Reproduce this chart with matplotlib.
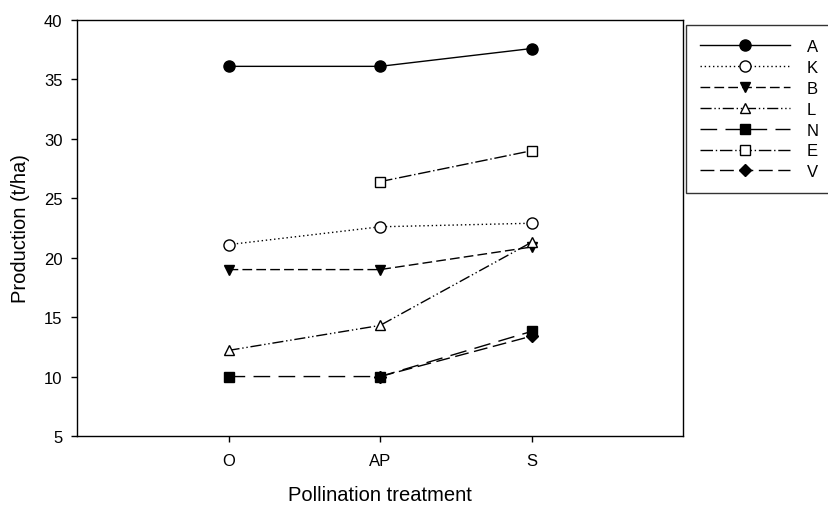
import numpy as np
import matplotlib

matplotlib.use("Agg")
import matplotlib.pyplot as plt

plt.rcParams["font.family"] = ["Liberation Sans", "DejaVu Sans"]

treatments = ["O", "AP", "S"]
series_names = ["A", "K", "B", "L", "N", "E", "V"]
A = [36.1, 36.1, 37.6]
K = [21.1, 22.6, 22.9]
B = [19.0, 19.0, 20.9]
L = [12.2, 14.3, 21.3]
N = [10.0, 10.0, 13.8]
E = [np.nan, 26.4, 29.0]
V = [np.nan, 10.0, 13.4]

styles = {
    "A": dict(ls="-", marker="o", mfc="black", ms=8),
    "K": dict(ls=(0, (1, 2)), marker="o", mfc="white", ms=8),
    "B": dict(ls=(0, (7, 3)), marker="v", mfc="black", ms=7.5),
    "L": dict(ls=(0, (8, 2, 1, 2, 1, 2)), marker="^", mfc="white", ms=7.5),
    "N": dict(ls=(0, (12, 6)), marker="s", mfc="black", ms=6.5),
    "E": dict(ls=(0, (9, 2, 1, 2)), marker="s", mfc="white", ms=6.5),
    "V": dict(ls=(0, (10, 4)), marker="D", mfc="black", ms=6),
}
values = {"A": A, "K": K, "B": B, "L": L, "N": N, "E": E, "V": V}

fig = plt.figure(figsize=(8.29, 5.06), dpi=100)
ax = fig.add_axes([0.0929, 0.1364, 0.7311, 0.8221])

x = np.arange(len(treatments))
for name in series_names:
    st = styles[name]
    ax.plot(x, values[name], color="black", lw=1.0, ls=st["ls"],
            marker=st["marker"], mfc=st["mfc"], mec="black", mew=1.0,
            ms=st["ms"], label=name)

ax.set_xlim(-1, 3)
ax.set_ylim(5, 40)
ax.set_xticks(x)
ax.set_xticklabels(treatments)
ax.set_yticks(np.arange(5, 41, 5))
ax.tick_params(axis="both", direction="out", length=4.5, width=1,
               labelsize=12, pad=6)
ax.tick_params(axis="x", pad=8)
ax.set_xlabel("Pollination treatment", fontsize=14.5, labelpad=12)
ax.set_ylabel("Production (t/ha)", fontsize=14.5, labelpad=10)
for sp in ax.spines.values():
    sp.set_linewidth(1.0)

leg = fig.legend(loc="upper left", bbox_to_anchor=(0.8275, 0.9486),
                 frameon=True, fancybox=False, edgecolor="black",
                 fontsize=12, handlelength=5.4, handletextpad=1.0,
                 labelspacing=0.35, borderpad=0.85, borderaxespad=0)
leg.get_frame().set_linewidth(1.0)

plt.savefig("out.png", dpi=100)
